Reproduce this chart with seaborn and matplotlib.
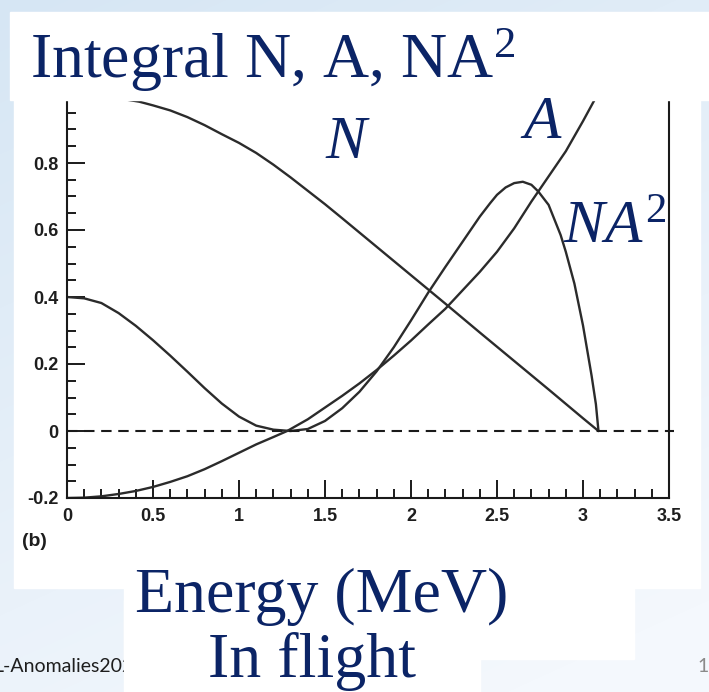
import numpy as np
import pandas as pd
import matplotlib
matplotlib.use("Agg")
import matplotlib.pyplot as plt
from matplotlib.patches import Rectangle
from matplotlib.ticker import MultipleLocator, FuncFormatter
import seaborn as sns

# ---- data: integral quantities vs. energy (MeV) ----
energy_N = [0.0, 0.2, 0.3, 0.42, 0.5, 0.6, 0.7, 0.8, 0.9, 1.0, 1.1, 1.2, 1.3,
            1.4, 1.5, 1.6, 1.8, 2.0, 2.2, 2.4, 2.6, 2.8, 3.0, 3.09]
value_N = [1.01, 1.0, 0.993, 0.983, 0.972, 0.957, 0.937, 0.913, 0.886, 0.86,
           0.83, 0.795, 0.757, 0.717, 0.677, 0.635, 0.55, 0.465, 0.38, 0.294,
           0.209, 0.124, 0.038, 0.0]

energy_A = [0.0, 0.1, 0.2, 0.3, 0.4, 0.5, 0.6, 0.7, 0.8, 0.9, 1.0, 1.1, 1.2,
            1.28, 1.4, 1.5, 1.6, 1.7, 1.8, 1.9, 2.0, 2.1, 2.2, 2.3, 2.4, 2.5,
            2.6, 2.7, 2.8, 2.9, 3.0, 3.09]
value_A = [-0.2, -0.199, -0.195, -0.188, -0.179, -0.167, -0.152, -0.135,
           -0.114, -0.09, -0.065, -0.04, -0.018, 0.0, 0.035, 0.07, 0.105,
           0.142, 0.182, 0.225, 0.27, 0.318, 0.365, 0.42, 0.475, 0.535, 0.605,
           0.685, 0.76, 0.835, 0.925, 1.01]

energy_NA2 = [0.0, 0.1, 0.2, 0.3, 0.4, 0.5, 0.6, 0.7, 0.8, 0.9, 1.0, 1.1, 1.2,
              1.3, 1.4, 1.5, 1.6, 1.7, 1.8, 1.9, 2.0, 2.1, 2.2, 2.3, 2.4, 2.46,
              2.5, 2.55, 2.6, 2.65, 2.7, 2.74, 2.8, 2.87, 2.9, 2.95, 3.0, 3.05,
              3.075, 3.09]
value_NA2 = [0.40, 0.396, 0.382, 0.352, 0.314, 0.271, 0.225, 0.177, 0.128,
             0.082, 0.043, 0.016, 0.004, 0.0, 0.006, 0.03, 0.068, 0.117, 0.178,
             0.25, 0.33, 0.413, 0.49, 0.565, 0.64, 0.68, 0.705, 0.727, 0.74,
             0.744, 0.735, 0.715, 0.675, 0.585, 0.535, 0.44, 0.315, 0.165,
             0.08, 0.0]

x_ticks = [0, 0.5, 1, 1.5, 2, 2.5, 3, 3.5]
y_ticks = [-0.2, 0, 0.2, 0.4, 0.6, 0.8]

curves = pd.concat([
    pd.DataFrame({"energy": energy_N, "value": value_N, "curve": "N"}),
    pd.DataFrame({"energy": energy_A, "value": value_A, "curve": "A"}),
    pd.DataFrame({"energy": energy_NA2, "value": value_NA2, "curve": "NA2"}),
], ignore_index=True)

# ---- styling ----
sns.set_theme(style="ticks")
plt.rcParams["font.family"] = ["Liberation Sans", "DejaVu Sans"]
plt.rcParams["mathtext.fontset"] = "custom"
plt.rcParams["mathtext.rm"] = "Liberation Serif"
plt.rcParams["mathtext.it"] = "Liberation Serif:italic"

W, H = 709, 692
fig = plt.figure(figsize=(W / 100, H / 100), dpi=100)

navy = "#0b2466"
ink = "#2b2b2b"

# slide background (soft blue gradient) and white content panels
ax_bg = fig.add_axes([0, 0, 1, 1], zorder=0)
yy, xx = np.mgrid[0:H, 0:W]
t = np.clip(0.35 * xx / W + 0.75 * yy / H, 0, 1)[..., None]
c0 = np.array([214, 230, 244]) / 255
c1 = np.array([244, 248, 253]) / 255
ax_bg.imshow(c0 * (1 - t) + c1 * t, extent=(0, W, H, 0), aspect="auto")
ax_bg.set_xlim(0, W)
ax_bg.set_ylim(H, 0)
ax_bg.axis("off")
ax_bg.add_patch(Rectangle((14, 100), 686, 488, color="white", zorder=2))
ax_bg.add_patch(Rectangle((124, 555), 510, 104, color="white", zorder=2))
ax_bg.text(-7, 672, "L-Anomalies2021", fontsize=14, family=["Lato", "DejaVu Sans"],
           color="#1e1e1e", zorder=1.5)
ax_bg.add_patch(Rectangle((124, 600), 356, 92, color="white", zorder=2))
ax_bg.text(697, 672, "1", fontsize=14, family=["Lato", "DejaVu Sans"],
           color="#8a8a8a", zorder=3)

# main plot
ax = fig.add_axes([67 / W, 1 - 498 / H, (669 - 67) / W, (498 - 96) / H], zorder=1)
ax.set_facecolor("none")
sns.lineplot(data=curves, x="energy", y="value", units="curve", estimator=None,
             sort=False, color=ink, linewidth=1.7, ax=ax, legend=False)
ax.axhline(0, xmin=0, xmax=3.53 / 3.5, color="#1a1a1a", linewidth=1.5,
           dashes=(5, 3.2), clip_on=False)

ax.set_xlim(0, 3.5)
ax.set_ylim(-0.2, 1.0)
ax.set_xticks(x_ticks)
ax.set_yticks(y_ticks)
ax.xaxis.set_minor_locator(MultipleLocator(0.1))
ax.yaxis.set_minor_locator(MultipleLocator(0.05))
ax.xaxis.set_major_formatter(FuncFormatter(lambda v, p: f"{v:g}"))
ax.yaxis.set_major_formatter(FuncFormatter(lambda v, p: f"{v:g}"))
ax.set_xlabel("")
ax.set_ylabel("")
for s in ax.spines.values():
    s.set_linewidth(1.5)
    s.set_color("#1a1a1a")
ax.tick_params(which="both", direction="in", color="#1a1a1a", width=1.4,
               top=False, right=False)
ax.tick_params(which="major", length=13)
ax.tick_params(which="minor", length=6.5)
ax.tick_params(axis="y", which="major", pad=6)
ax.tick_params(axis="x", which="major", pad=7)
for lab in ax.get_xticklabels() + ax.get_yticklabels():
    lab.set_fontweight("bold")
    lab.set_fontsize(13)
    lab.set_color("#1e1e1e")

# overlay: slide title box, curve names and axis caption
ov = fig.add_axes([0, 0, 1, 1], zorder=3)
ov.set_xlim(0, W)
ov.set_ylim(H, 0)
ov.axis("off")
ov.patch.set_alpha(0)
ov.add_patch(Rectangle((10, 12), W - 10, 88, color="white", zorder=1))
serif = ["Liberation Serif", "DejaVu Serif"]
ov.text(30, 78, r"Integral N, A, NA$^{\mathrm{2}}$", fontsize=46, family=serif,
        color=navy, zorder=2)
ov.text(325, 158, "N", fontsize=44, family=serif, style="italic", color=navy)
ov.text(523, 138, "A", fontsize=44, family=serif, style="italic", color=navy)
ov.text(563, 243, r"$NA^{\mathit{2}}$", fontsize=44, color=navy)
ov.text(322, 612, "Energy (MeV)", fontsize=46, family=serif, color=navy,
        ha="center")
ov.text(312, 677, "In flight", fontsize=46, family=serif, color=navy,
        ha="center")
ov.text(34, 546, "(b)", fontsize=14, fontweight="bold", color="#1e1e1e",
        ha="center")

fig.savefig("out.png", dpi=100)
